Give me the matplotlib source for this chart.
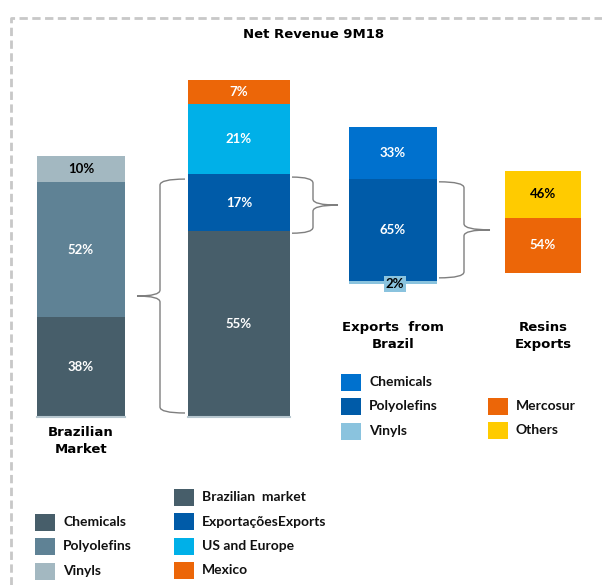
import matplotlib.pyplot as plt
from matplotlib.path import Path
from matplotlib.patches import PathPatch, Rectangle
from matplotlib.colors import to_rgb

plt.rcParams['font.family'] = ['Lato', 'DejaVu Sans']
HEAD_FONT = ['DejaVu Sans']

title = "Net Revenue 9M18"

# Brazilian market by product (bottom to top)
market_labels = ["Chemicals", "Polyolefins", "Vinyls"]
market_pct = [38, 52, 10]

# net revenue by destination (bottom to top)
dest_labels = ["Brazilian  market", "ExportaçõesExports", "US and Europe", "Mexico"]
dest_pct = [55, 17, 21, 7]

# exports from Brazil by product (legend order, stacked in reverse)
export_labels = ["Chemicals", "Polyolefins", "Vinyls"]
export_pct = [33, 65, 2]

# resins exports by destination (bottom to top)
resin_labels = ["Mercosur", "Others"]
resin_pct = [54, 46]

bar_names = ["Brazilian\nMarket", "", "Exports  from\nBrazil", "Resins\nExports"]

market_colors = ["#475e6a", "#5f8295", "#a3b8c1"]
dest_colors = ["#475e6a", "#005ba8", "#00b0e8", "#ec6608"]
export_colors = ["#0071ce", "#005ba8", "#8ac3de"]
resin_colors = ["#ec6608", "#ffcb00"]

# layout, all in pixels of the 602x585 picture (y grows downwards)
bar_x = [81, 239, 393, 543]
bar_w = [88, 102, 88, 76]
bar_base = [416, 416, 284, 273]
px_per_pct = [2.60, 3.36, 1.57, 1.02]
name_y = [426, None, 321, 321]


def is_light(color):
    r, g, b = to_rgb(color)
    return 0.299 * r + 0.587 * g + 0.114 * b > 0.6


def stacked_bar(ax, i, pcts, colors):
    """Draw one stacked bar and return the image-y boundaries of its segments."""
    bottom = bar_base[i]
    edges = [bottom]
    for pct, col in zip(pcts, colors):
        h = pct * px_per_pct[i]
        ax.bar(bar_x[i], -h, bottom=bottom, width=bar_w[i], color=col, linewidth=0)
        txt_col = "black" if is_light(col) else "white"
        if h < 12:
            # too thin for a label inside, put it in a small box on the base
            ax.text(bar_x[i] + 2, bottom, f"{pct}%", ha="center", va="center",
                    fontsize=9.5, fontweight="bold", color=txt_col,
                    bbox=dict(facecolor=col, edgecolor="none", pad=1.5))
        else:
            ax.text(bar_x[i], bottom - h / 2, f"{pct}%", ha="center", va="center",
                    fontsize=9.5, fontweight="bold", color=txt_col)
        bottom -= h
        edges.append(bottom)
    return edges


def brace(ax, x_end, x_mid, x_tip, y_top, y_bot):
    y_tip = (y_top + y_bot) / 2
    r = 6
    verts = [(x_end, y_top), (x_mid, y_top), (x_mid, y_top + r),
             (x_mid, y_tip - r),
             (x_mid, y_tip), (x_tip, y_tip),
             (x_mid, y_tip), (x_mid, y_tip + r),
             (x_mid, y_bot - r),
             (x_mid, y_bot), (x_end, y_bot)]
    codes = [Path.MOVETO, Path.CURVE3, Path.CURVE3,
             Path.LINETO,
             Path.CURVE3, Path.CURVE3,
             Path.CURVE3, Path.CURVE3,
             Path.LINETO,
             Path.CURVE3, Path.CURVE3]
    ax.add_patch(PathPatch(Path(verts, codes), facecolor="none",
                           edgecolor="#7f7f7f", linewidth=1))


def legend_block(ax, x, y0, labels, colors):
    for k, (lab, col) in enumerate(zip(labels, colors)):
        y = y0 + k * 24.5
        ax.add_patch(Rectangle((x, y - 8.5), 20, 17, facecolor=col, edgecolor="none"))
        ax.text(x + 28, y, lab, ha="left", va="center", fontsize=10,
                fontweight="bold", color="#111111")


fig = plt.figure(figsize=(6.02, 5.85), dpi=100)
ax = fig.add_axes([0, 0, 1, 1])
ax.set_xlim(0, 602)
ax.set_ylim(585, 0)
ax.axis("off")

# dashed frame (left and top only are visible)
ax.plot([11, 11, 602], [585, 18, 18], color="#c8c8c8", linewidth=2,
        linestyle=(0, (3, 1.6)), solid_joinstyle="miter")

ax.text(314, 35, title, ha="center", va="center", fontsize=9.5,
        fontweight="bold", family=HEAD_FONT)

e_market = stacked_bar(ax, 0, market_pct, market_colors)
e_dest = stacked_bar(ax, 1, dest_pct, dest_colors)
e_export = stacked_bar(ax, 2, export_pct[::-1], export_colors[::-1])
e_resin = stacked_bar(ax, 3, resin_pct, resin_colors)

# light base line under the first two bars
for i in (0, 1):
    ax.plot([bar_x[i] - bar_w[i] / 2, bar_x[i] + bar_w[i] / 2],
            [bar_base[i] + 0.5] * 2, color="#b7c7cf", linewidth=1.5)

for i, name in enumerate(bar_names):
    if name:
        ax.text(bar_x[i], name_y[i], name, ha="center", va="top", fontsize=9.5,
                fontweight="bold", linespacing=1.4, family=HEAD_FONT)

# braces linking the bars
left2 = bar_x[1] - bar_w[1] / 2
right2 = bar_x[1] + bar_w[1] / 2
right3 = bar_x[2] + bar_w[2] / 2
brace(ax, left2 - 3, left2 - 28, left2 - 51, e_dest[2] + 5, e_dest[0] - 3)
brace(ax, right2 + 2, right2 + 23, right2 + 48, e_dest[2] + 3, e_dest[1] + 2)
brace(ax, right3 + 2, right3 + 27, right3 + 53, e_export[2] + 3, e_export[1] - 3)

legend_block(ax, 35, 522, market_labels, market_colors)
legend_block(ax, 174, 497, dest_labels, dest_colors)
legend_block(ax, 341, 382, export_labels, export_colors)
legend_block(ax, 488, 406, resin_labels, resin_colors)

fig.savefig("out.png", dpi=100)
